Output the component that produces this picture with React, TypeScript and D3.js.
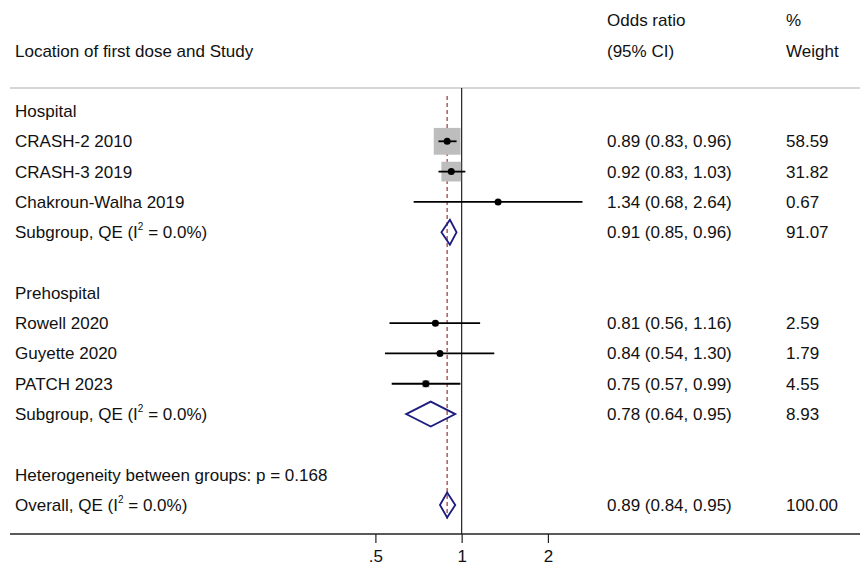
import React, { useRef, useEffect } from 'react';
import * as d3 from 'd3';

// rows of the forest plot, top to bottom
const rowLabels = [
  'Hospital',
  'CRASH-2 2010',
  'CRASH-3 2019',
  'Chakroun-Walha 2019',
  'Subgroup, QE (I|2| = 0.0%)',
  '',
  'Prehospital',
  'Rowell 2020',
  'Guyette 2020',
  'PATCH 2023',
  'Subgroup, QE (I|2| = 0.0%)',
  '',
  'Heterogeneity between groups: p = 0.168',
  'Overall, QE (I|2| = 0.0%)',
];
// 'h' header, 's' study, 'd' pooled diamond, '' none
const rowKinds = ['h', 's', 's', 's', 'd', '', 'h', 's', 's', 's', 'd', '', 'h', 'd'];
const oddsRatio = [null, 0.89, 0.92, 1.34, 0.91, null, null, 0.81, 0.84, 0.75, 0.78, null, null, 0.89];
const lowerCI = [null, 0.83, 0.83, 0.68, 0.85, null, null, 0.56, 0.54, 0.57, 0.64, null, null, 0.84];
const upperCI = [null, 0.96, 1.03, 2.64, 0.96, null, null, 1.16, 1.3, 0.99, 0.95, null, null, 0.95];
const weights = [null, 58.59, 31.82, 0.67, 91.07, null, null, 2.59, 1.79, 4.55, 8.93, null, null, 100.0];

const overallOR = 0.89;
const tickValues = [0.5, 1, 2];
const tickLabels = ['.5', '1', '2'];

const ForestPlot = () => {
  const ref = useRef<SVGSVGElement>(null);

  useEffect(() => {
    const width = 860;
    const height = 564;
    const font = '"Liberation Sans", Arial, sans-serif';
    const fs = 17;

    const svg = d3.select(ref.current).attr('width', width).attr('height', height);
    svg.selectAll('*').remove();

    const x = d3.scaleLog().domain([0.5, 2]).range([375.4, 547.9]);
    const y = d3
      .scaleLinear()
      .domain([0, rowLabels.length - 1])
      .range([111, 505]);

    const topLine = 88;
    const axisY = 534;

    // header
    const header = svg.append('g').attr('font-family', font).attr('font-size', fs).attr('fill', '#111');
    header.append('text').attr('x', 15).attr('y', 57).text('Location of first dose and Study');
    header.append('text').attr('x', 607).attr('y', 26).text('Odds ratio');
    header.append('text').attr('x', 607).attr('y', 57).text('(95% CI)');
    header.append('text').attr('x', 786).attr('y', 26).text('%');
    header.append('text').attr('x', 786).attr('y', 57).text('Weight');

    svg
      .append('line')
      .attr('x1', 10)
      .attr('x2', width)
      .attr('y1', topLine)
      .attr('y2', topLine)
      .attr('stroke', '#c8c8c8')
      .attr('stroke-width', 1.5);

    // no-effect line
    svg
      .append('line')
      .attr('x1', x(1))
      .attr('x2', x(1))
      .attr('y1', topLine)
      .attr('y2', axisY)
      .attr('stroke', '#222')
      .attr('stroke-width', 1.2);

    // overall effect dashed line
    svg
      .append('line')
      .attr('x1', x(overallOR))
      .attr('x2', x(overallOR))
      .attr('y1', 96)
      .attr('y2', 519)
      .attr('stroke', '#a85050')
      .attr('stroke-width', 1.4)
      .attr('stroke-dasharray', '4,3');

    const rows = rowLabels.map((label, i) => ({
      label,
      kind: rowKinds[i],
      or: oddsRatio[i],
      lo: lowerCI[i],
      hi: upperCI[i],
      w: weights[i],
      i,
    }));

    // labels with superscript handling
    const labels = svg.append('g').attr('font-family', font).attr('font-size', fs).attr('fill', '#111');
    rows.forEach((r) => {
      if (!r.label) return;
      const t = labels.append('text').attr('x', 15).attr('y', y(r.i) + 6);
      const parts = r.label.split('|');
      parts.forEach((p, k) => {
        const s = t.append('tspan').text(p);
        if (k % 2 === 1) s.attr('font-size', 10).attr('dy', -8);
        else if (k > 0) s.attr('dy', 8);
      });
      if (r.or != null) {
        labels
          .append('text')
          .attr('x', 607)
          .attr('y', y(r.i) + 6)
          .text(`${r.or.toFixed(2)} (${r.lo!.toFixed(2)}, ${r.hi!.toFixed(2)})`);
        labels
          .append('text')
          .attr('x', 786)
          .attr('y', y(r.i) + 6)
          .text(r.w!.toFixed(2));
      }
    });

    const studies = rows.filter((r) => r.kind === 's');

    // weight boxes
    svg
      .selectAll('.box')
      .data(studies)
      .enter()
      .append('rect')
      .attr('class', 'box')
      .attr('x', (d) => x(d.or!) - 1.75 * Math.sqrt(d.w!))
      .attr('y', (d) => y(d.i) - 1.75 * Math.sqrt(d.w!))
      .attr('width', (d) => 3.5 * Math.sqrt(d.w!))
      .attr('height', (d) => 3.5 * Math.sqrt(d.w!))
      .attr('fill', '#bdbdbd');

    svg
      .selectAll('.ci')
      .data(studies)
      .enter()
      .append('line')
      .attr('class', 'ci')
      .attr('x1', (d) => x(d.lo!))
      .attr('x2', (d) => x(d.hi!))
      .attr('y1', (d) => y(d.i))
      .attr('y2', (d) => y(d.i))
      .attr('stroke', '#000')
      .attr('stroke-width', 1.8);

    svg
      .selectAll('.pt')
      .data(studies)
      .enter()
      .append('circle')
      .attr('class', 'pt')
      .attr('cx', (d) => x(d.or!))
      .attr('cy', (d) => y(d.i))
      .attr('r', 3.5)
      .attr('fill', '#000');

    // pooled diamonds
    const pooled = rows.filter((r) => r.kind === 'd');
    svg
      .selectAll('.diamond')
      .data(pooled)
      .enter()
      .append('path')
      .attr('class', 'diamond')
      .attr('d', (d) => {
        const cy = y(d.i);
        return `M${x(d.lo!)},${cy}L${x(d.or!)},${cy - 12.5}L${x(d.hi!)},${cy}L${x(d.or!)},${cy + 12.5}Z`;
      })
      .attr('fill', 'none')
      .attr('stroke', '#1c1c80')
      .attr('stroke-width', 1.8);

    // x axis
    const axis = d3
      .axisBottom(x)
      .tickValues(tickValues)
      .tickFormat((_d, i) => tickLabels[i])
      .tickSize(9)
      .tickPadding(7);

    const ax = svg.append('g').attr('transform', `translate(0, ${axisY})`).call(axis);
    ax.select('.domain').remove();
    ax.selectAll('line').attr('stroke', '#222').attr('stroke-width', 1.2);
    ax.selectAll('text').attr('font-family', font).attr('font-size', fs).attr('fill', '#111');

    svg
      .append('line')
      .attr('x1', 10)
      .attr('x2', width)
      .attr('y1', axisY)
      .attr('y2', axisY)
      .attr('stroke', '#222')
      .attr('stroke-width', 1.5);
  }, []);

  return <svg ref={ref} style={{ position: 'absolute', left: 0, top: 0 }}></svg>;
};

export default function App() {
  return <ForestPlot />;
}
